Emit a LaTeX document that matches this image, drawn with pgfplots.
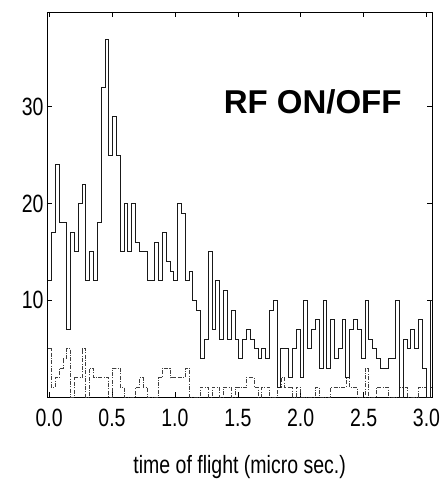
\documentclass[border=0pt]{standalone}
\usepackage{fontspec}
\setmainfont{Liberation Sans}
\newfontfamily\narrowfont[FakeStretch=0.78]{Liberation Sans}
\usepackage{pgfplots}
\pgfplotsset{compat=1.18}
\usepackage{pgfplotstable}

\pgfplotstableread{
x on off
-0.0120 12 5
0.0184 17 1
0.0488 24 2
0.0792 18 3
0.1096 18 4
0.1400 7 5
0.1704 17 0
0.2008 15 2
0.2312 20 2
0.2616 22 5
0.2920 12 0
0.3224 15 3
0.3528 12 2
0.3832 18 2
0.4136 32 2
0.4440 37 2
0.4744 25 0
0.5048 29 3
0.5352 25 3
0.5656 15 1
0.5960 20 0
0.6264 15 0
0.6568 20 0
0.6872 16 1
0.7176 15 2
0.7480 15 1
0.7784 12 0
0.8088 12 0
0.8392 16 0
0.8696 12 2
0.9000 17 3
0.9304 14 3
0.9608 13 2
0.9912 12 2
1.0216 20 2
1.0520 19 2
1.0824 12 3
1.1128 13 0
1.1432 10 0
1.1736 9 0
1.2040 4 1
1.2344 6 1
1.2648 15 0
1.2952 7 1
1.3256 12 1
1.3560 6 0
1.3864 11 1
1.4168 6 1
1.4472 9 0
1.4776 6 1
1.5080 4 1
1.5384 6 1
1.5688 7 2
1.5992 6 2
1.6296 5 1
1.6600 4 0
1.6904 5 1
1.7208 4 1
1.7512 9 0
1.7816 10 0
1.8120 1 1
1.8424 5 2
1.8728 5 1
1.9032 2 1
1.9336 5 0
1.9640 7 1
1.9944 2 0
2.0248 10 0
2.0552 5 0
2.0856 7 0
2.1160 8 1
2.1464 3 0
2.1768 10 0
2.2072 3 0
2.2376 8 1
2.2680 4 1
2.2984 5 1
2.3288 8 1
2.3592 2 2
2.3896 7 1
2.4200 8 1
2.4504 7 0
2.4808 4 0
2.5112 10 3
2.5416 6 0
2.5720 5 0
2.6024 4 1
2.6328 3 1
2.6632 3 1
2.6936 4 0
2.7240 4 0
2.7544 10 0
2.7848 0 1
2.8152 6 1
2.8456 5 0
2.8760 7 0
2.9064 5 0
2.9368 8 1
2.9672 3 1
2.9976 0 0
3.0280 10 1
3.0584 10 1
}\tofdata

\begin{document}
\begin{tikzpicture}
\useasboundingbox (-47bp,-84bp) rectangle (394bp,397bp);
\begin{axis}[
  scale only axis,
  width=385.3bp, height=385bp,
  xmin=-0.0167, xmax=3.046, ymin=0, ymax=39.8,
  xtick={0,0.5,1,1.5,2,2.5,3},
  ytick={10,20,30},
  tick align=inside,
  tick pos=both,
  major tick length=5bp,
  every tick/.style={black, line width=0.6bp},
  axis line style={black, line width=0.8bp},
  /pgf/number format/assume math mode=true,
  tick label style={font=\narrowfont\fontsize{25bp}{30bp}\selectfont},
  xticklabel style={/pgf/number format/fixed, /pgf/number format/fixed zerofill, /pgf/number format/precision=1, yshift=-9bp},
  xlabel={time of flight (micro sec.)},
  xlabel style={font=\narrowfont\fontsize{25bp}{30bp}\selectfont, at={(axis description cs:0.5,0)}, anchor=center, yshift=-70bp},
  clip=true,
]
\addplot[const plot mark left, black!75, line width=0.7bp, dash pattern=on 4bp off 1.5bp on 0.8bp off 1.5bp] table[x=x, y=off] {\tofdata};
\addplot[const plot mark left, black!90, line width=0.85bp] table[x=x, y=on] {\tofdata};
\node[font=\bfseries\fontsize{33bp}{40bp}\selectfont] at (axis cs:2.095,30.5) {RF ON/OFF};
\end{axis}
\end{tikzpicture}
\end{document}
